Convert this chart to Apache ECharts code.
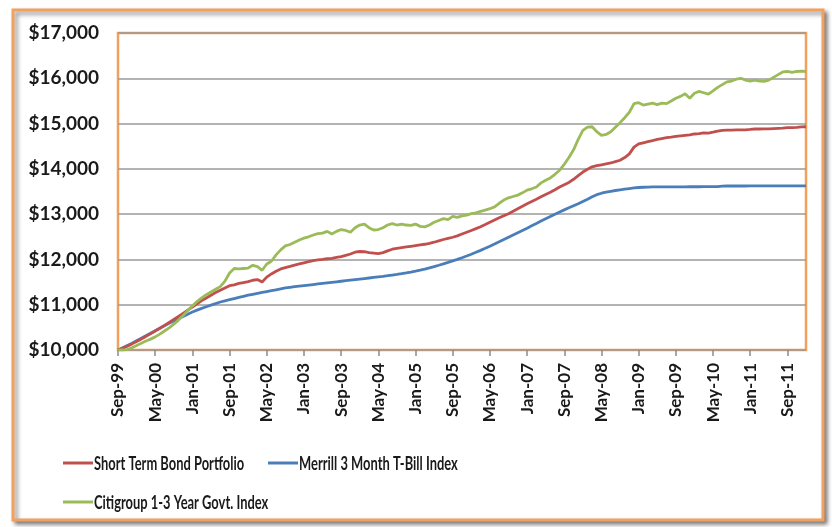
<!DOCTYPE html>
<html>
<head>
<meta charset="utf-8">
<script src="https://cdn.jsdelivr.net/npm/echarts@6/dist/echarts.min.js"></script>
<style>
  html, body { margin: 0; padding: 0; background: #ffffff; }
  #chart { width: 832px; height: 527px; }
</style>
</head>
<body>
<div id="chart"></div>
<script>
// Growth of $10,000, monthly, September 1999 through January 2012
const startYear = 1999;
const startMonthIndex = 8; // September
const monthCount = 149;
const monthNames = ['Jan','Feb','Mar','Apr','May','Jun','Jul','Aug','Sep','Oct','Nov','Dec'];

const seriesNames = [
  'Short Term Bond Portfolio',
  'Merrill 3 Month T-Bill Index',
  'Citigroup 1-3 Year Govt. Index'
];

const shortTermBond = [
  10000,10040,10085,10135,10190,10245,10300,10360,10420,10480,
  10545,10610,10675,10740,10810,10880,10950,11020,11090,11150,
  11210,11270,11320,11370,11420,11440,11470,11490,11510,11540,
  11555,11500,11610,11680,11740,11790,11820,11845,11875,11900,
  11925,11950,11975,11990,12000,12015,12025,12045,12060,12090,
  12120,12160,12175,12170,12150,12140,12130,12150,12190,12225,
  12245,12260,12275,12290,12305,12320,12335,12355,12380,12410,
  12440,12465,12490,12520,12560,12600,12640,12680,12722,12770,
  12820,12870,12920,12965,13010,13065,13120,13175,13230,13280,
  13330,13385,13435,13485,13540,13600,13650,13700,13770,13850,
  13930,13990,14045,14070,14090,14110,14130,14160,14190,14250,
  14330,14480,14550,14575,14600,14625,14650,14670,14690,14700,
  14715,14730,14740,14750,14770,14780,14795,14790,14810,14835,
  14850,14855,14855,14860,14860,14862,14870,14880,14880,14882,
  14885,14890,14895,14900,14910,14912,14918,14928,14930
];

const tBill = [
  10000,10050,10100,10150,10205,10260,10315,10370,10425,10480,
  10535,10590,10640,10690,10740,10790,10840,10880,10920,10955,
  10990,11025,11060,11085,11110,11135,11160,11185,11210,11230,
  11250,11270,11290,11310,11330,11350,11370,11385,11398,11410,
  11422,11434,11446,11458,11470,11482,11494,11506,11518,11530,
  11542,11554,11566,11578,11590,11602,11614,11626,11640,11655,
  11670,11686,11703,11722,11742,11764,11788,11814,11842,11872,
  11903,11935,11968,12002,12038,12075,12115,12157,12200,12245,
  12292,12340,12390,12440,12490,12540,12590,12640,12690,12742,
  12794,12846,12898,12948,12998,13046,13094,13140,13185,13230,
  13280,13330,13385,13430,13462,13485,13505,13522,13538,13552,
  13565,13578,13588,13594,13598,13600,13601,13602,13602,13603,
  13603,13604,13604,13605,13605,13605,13606,13606,13606,13607,
  13620,13621,13621,13622,13622,13622,13623,13623,13623,13624,
  13624,13624,13624,13625,13625,13625,13625,13625,13625
];

const citigroup = [
  10000,10000,10010,10050,10100,10150,10200,10240,10290,10350,
  10420,10490,10570,10660,10760,10870,10970,11070,11150,11220,
  11280,11340,11400,11520,11700,11800,11790,11800,11810,11870,
  11840,11760,11900,11960,12100,12210,12300,12330,12380,12430,
  12470,12500,12540,12570,12580,12620,12560,12620,12660,12640,
  12600,12700,12760,12780,12700,12650,12660,12700,12760,12790,
  12760,12780,12760,12750,12780,12730,12720,12760,12820,12860,
  12900,12880,12950,12930,12960,12980,13010,13030,13060,13090,
  13120,13160,13240,13310,13360,13390,13420,13470,13530,13560,
  13600,13690,13750,13800,13880,13970,14100,14250,14420,14650,
  14850,14920,14930,14820,14740,14760,14820,14920,15020,15130,
  15250,15440,15460,15410,15430,15450,15420,15450,15440,15500,
  15560,15600,15660,15560,15670,15710,15680,15650,15720,15800,
  15860,15920,15940,15980,16000,15960,15940,15960,15940,15930,
  15960,16020,16080,16140,16150,16130,16150,16160,16150
];

const yMin = 10000;
const yMax = 17000;
const yStep = 1000;
const labelEvery = 8; // months between date labels

// Month labels such as "Sep-99"
const categories = [];
for (let i = 0; i < monthCount; i++) {
  const m = (startMonthIndex + i) % 12;
  const y = startYear + Math.floor((startMonthIndex + i) / 12);
  categories.push(monthNames[m] + '-' + String(y % 100).padStart(2, '0'));
}

const colors = ['#C0504D', '#4A7EBB', '#9BBB59'];
const orange = '#F2A05E';
const labelFont = 'Lato, "Open Sans", sans-serif';

function money(v) {
  return '$' + v.toString().replace(/\B(?=(\d{3})+(?!\d))/g, ',');
}

// Key entries: a short coloured stroke followed by a narrow label
const keySlots = [
  { x: 63, y: 463 },
  { x: 268, y: 463 },
  { x: 63, y: 502 }
];
const keyGraphics = [];
seriesNames.forEach(function (name, i) {
  const s = keySlots[i];
  keyGraphics.push({
    type: 'line',
    z: 10,
    shape: { x1: s.x, y1: s.y, x2: s.x + 30, y2: s.y },
    style: { stroke: colors[i], lineWidth: 3 }
  });
  keyGraphics.push({
    type: 'text',
    z: 10,
    x: s.x + 31,
    y: s.y + 1,
    scaleX: 0.68,
    style: {
      text: name,
      font: 'bold 19px ' + labelFont,
      fill: '#1a1a1a',
      textVerticalAlign: 'middle',
      textAlign: 'left'
    }
  });
});

const chart = echarts.init(document.getElementById('chart'), null, { renderer: 'canvas' });

chart.setOption({
  backgroundColor: '#ffffff',
  animation: false,
  graphic: [
    {
      type: 'rect',
      z: -10,
      shape: { x: 13, y: 10, width: 810, height: 510 },
      style: {
        fill: '#ffffff',
        stroke: orange,
        lineWidth: 3,
        shadowBlur: 4,
        shadowOffsetX: 3,
        shadowOffsetY: 3,
        shadowColor: 'rgba(0,0,0,0.45)'
      }
    }
  ].concat(keyGraphics),
  grid: {
    left: 118,
    right: 26,
    top: 33,
    bottom: 177,
    show: true,
    backgroundColor: '#ffffff',
    borderColor: orange,
    borderWidth: 2.5
  },
  xAxis: {
    type: 'category',
    data: categories,
    boundaryGap: false,
    axisLine: { show: false },
    axisTick: {
      show: true,
      interval: labelEvery - 1,
      length: 6,
      lineStyle: { color: '#8c8c8c', width: 1.5 }
    },
    axisLabel: {
      interval: labelEvery - 1,
      rotate: 90,
      margin: 13,
      fontFamily: labelFont,
      fontSize: 17,
      fontWeight: 'bold',
      color: '#1a1a1a'
    },
    splitLine: { show: false }
  },
  yAxis: {
    type: 'value',
    min: yMin,
    max: yMax,
    interval: yStep,
    axisLine: { show: false },
    axisTick: { show: false },
    axisLabel: {
      margin: 19,
      formatter: money,
      fontFamily: labelFont,
      fontSize: 19,
      fontWeight: 'bold',
      color: '#1a1a1a'
    },
    splitLine: { lineStyle: { color: '#9a9a9a', width: 1.5 } }
  },
  series: [
    { name: seriesNames[0], type: 'line', data: shortTermBond, showSymbol: false, color: colors[0], lineStyle: { width: 2.8, color: colors[0] }, z: 3 },
    { name: seriesNames[1], type: 'line', data: tBill, showSymbol: false, color: colors[1], lineStyle: { width: 2.8, color: colors[1] }, z: 2 },
    { name: seriesNames[2], type: 'line', data: citigroup, showSymbol: false, color: colors[2], lineStyle: { width: 2.8, color: colors[2] }, z: 4 }
  ]
});
</script>
</body>
</html>
